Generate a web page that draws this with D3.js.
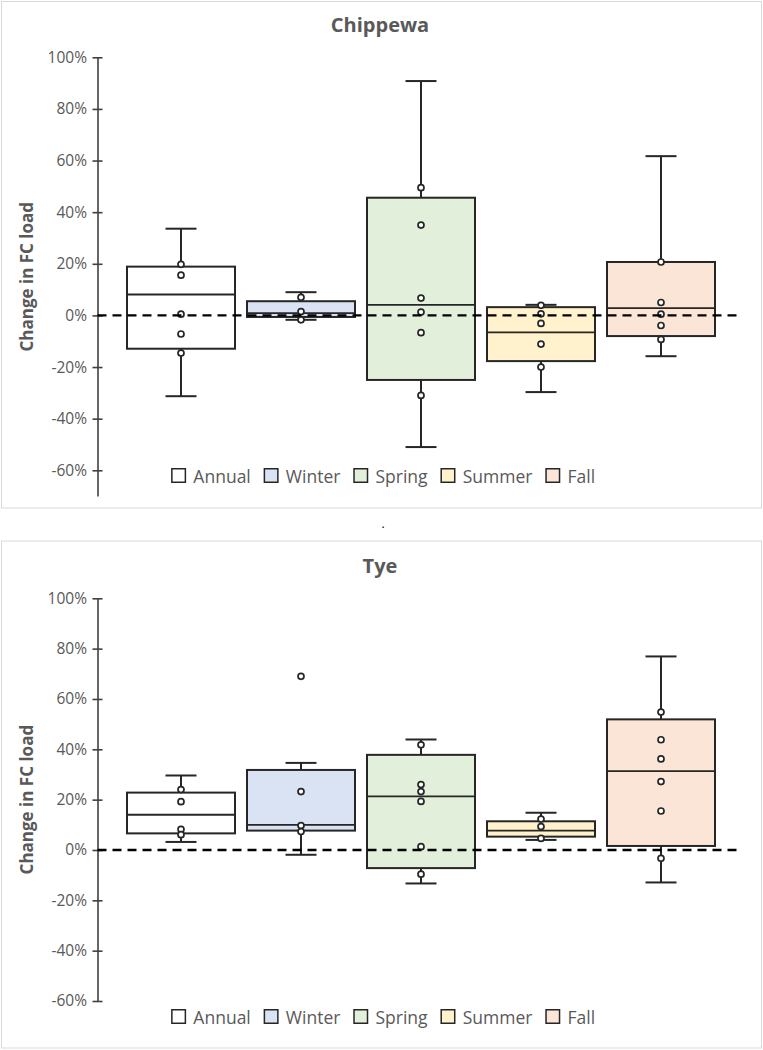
<!DOCTYPE html>
<html>
<head>
<meta charset="utf-8">
<script src="https://cdn.jsdelivr.net/npm/d3@7/dist/d3.min.js"></script>
<style>
  body { margin: 0; background: #ffffff; }
  svg { display: block; }
</style>
</head>
<body>
<svg id="chart" width="763" height="1050"></svg>
<script>
// ---------- data ----------
const categories = ["Annual", "Winter", "Spring", "Summer", "Fall"];
const fillColors = ["#ffffff", "#dae3f3", "#e2efda", "#fff2cc", "#fbe5d6"];
const tickValues = [1.0, 0.8, 0.6, 0.4, 0.2, 0.0, -0.2, -0.4, -0.6];

const chippewaMin    = [-0.313, -0.017, -0.51, -0.297, -0.158];
const chippewaQ1     = [-0.129, -0.006, -0.25, -0.177, -0.080];
const chippewaMedian = [ 0.081,  0.009,  0.041, -0.066,  0.028];
const chippewaQ3     = [ 0.189,  0.055,  0.456,  0.032,  0.207];
const chippewaMax    = [ 0.336,  0.090,  0.908,  0.041,  0.617];
const chippewaPoints = [
  [0.198, 0.156, 0.005, -0.072, -0.146],
  [0.070, 0.015, -0.017],
  [0.495, 0.350, 0.067, 0.013, -0.067, -0.310],
  [0.039, 0.006, -0.031, -0.111, -0.200],
  [0.207, 0.050, 0.005, -0.039, -0.093]
];

const tyeMin    = [0.032, -0.019, -0.133, 0.040, -0.129];
const tyeQ1     = [0.066,  0.077, -0.072, 0.053,  0.016];
const tyeMedian = [0.140,  0.100,  0.213, 0.077,  0.313];
const tyeQ3     = [0.228,  0.318,  0.378, 0.114,  0.519];
const tyeMax    = [0.296,  0.346,  0.439, 0.148,  0.769];
const tyePoints = [
  [0.240, 0.192, 0.082, 0.061],
  [0.690, 0.232, 0.097, 0.073],
  [0.418, 0.260, 0.232, 0.193, 0.013, -0.096],
  [0.123, 0.093, 0.046],
  [0.548, 0.438, 0.362, 0.272, 0.155, -0.033]
];

// ---------- drawing ----------
const svg = d3.select("#chart");
const FONT = "'Open Sans', 'DejaVu Sans', sans-serif";
const TEXT = "#595959";
const INK = "#262626";
const pct = d => d3.format(".0%")(d).replace("\u2212", "-");

function panel(cfg) {
  const g = svg.append("g");
  // frame
  g.append("rect")
    .attr("x", 1.5).attr("y", cfg.frameTop)
    .attr("width", 760).attr("height", cfg.frameH)
    .attr("fill", "#fff").attr("stroke", "#d9d9d9").attr("stroke-width", 1);

  const y = d3.scaleLinear().domain(cfg.domain).range(cfg.yRange);
  const x = d3.scaleBand().domain(categories).range([121, 721])
    .paddingInner(0.1).paddingOuter(0.05);

  // title
  g.append("text")
    .attr("x", 380).attr("y", cfg.titleY)
    .attr("text-anchor", "middle")
    .attr("font-family", FONT).attr("font-weight", "bold")
    .attr("font-size", 20).attr("fill", TEXT)
    .text(cfg.title);

  // y axis label
  const midY = (cfg.yRange[0] + cfg.yRange[1]) / 2;
  g.append("text")
    .attr("transform", `translate(26,${midY}) rotate(-90)`)
    .attr("text-anchor", "middle").attr("dominant-baseline", "central")
    .attr("font-family", FONT).attr("font-weight", "bold")
    .attr("font-size", 17).attr("fill", TEXT)
    .text("Change in FC load");

  // axis
  const axisX = 97.5;
  const ax = g.append("g").attr("transform", `translate(${axisX},0)`)
    .call(d3.axisLeft(y).tickValues(tickValues)
      .tickFormat(pct).tickSizeInner(5).tickSizeOuter(0).tickPadding(5.5));
  ax.select(".domain").attr("stroke", "#404040").attr("stroke-width", 1.6);
  ax.selectAll(".tick line").attr("x1", -5).attr("x2", 5)
    .attr("stroke", "#404040").attr("stroke-width", 1.6);
  ax.selectAll(".tick text").attr("font-family", FONT).attr("font-size", 15.5)
    .attr("fill", TEXT);

  const cap = 31;
  const boxes = g.append("g").selectAll("g").data(categories).join("g");
  boxes.each(function (c, i) {
    const b = d3.select(this);
    const cx = x(c) + x.bandwidth() / 2;
    // whiskers
    b.append("line").attr("x1", cx).attr("x2", cx)
      .attr("y1", y(cfg.max[i])).attr("y2", y(cfg.q3[i]))
      .attr("stroke", INK).attr("stroke-width", 2);
    b.append("line").attr("x1", cx).attr("x2", cx)
      .attr("y1", y(cfg.q1[i])).attr("y2", y(cfg.min[i]))
      .attr("stroke", INK).attr("stroke-width", 2);
    b.append("line").attr("x1", cx - cap / 2).attr("x2", cx + cap / 2)
      .attr("y1", y(cfg.max[i])).attr("y2", y(cfg.max[i]))
      .attr("stroke", INK).attr("stroke-width", 2);
    b.append("line").attr("x1", cx - cap / 2).attr("x2", cx + cap / 2)
      .attr("y1", y(cfg.min[i])).attr("y2", y(cfg.min[i]))
      .attr("stroke", INK).attr("stroke-width", 2);
    // box
    b.append("rect").attr("x", x(c)).attr("width", x.bandwidth())
      .attr("y", y(cfg.q3[i])).attr("height", y(cfg.q1[i]) - y(cfg.q3[i]))
      .attr("fill", fillColors[i]).attr("stroke", INK).attr("stroke-width", 2);
    // median
    b.append("line").attr("x1", x(c)).attr("x2", x(c) + x.bandwidth())
      .attr("y1", y(cfg.median[i])).attr("y2", y(cfg.median[i]))
      .attr("stroke", INK).attr("stroke-width", 1.8);
  });

  // zero reference line
  g.append("line").attr("x1", axisX).attr("x2", 740)
    .attr("y1", y(0)).attr("y2", y(0))
    .attr("stroke", "#000").attr("stroke-width", 2.4)
    .attr("stroke-dasharray", "9,6");

  // inner points
  boxes.each(function (c, i) {
    const cx = x(c) + x.bandwidth() / 2;
    d3.select(this).selectAll("circle").data(cfg.points[i]).join("circle")
      .attr("cx", cx).attr("cy", d => y(d)).attr("r", 3)
      .attr("fill", "#fff").attr("stroke", INK).attr("stroke-width", 1.7);
  });

  // legend
  const lg = g.append("g");
  let lx = 0;
  categories.forEach((c, i) => {
    const it = lg.append("g");
    it.append("rect").attr("x", lx).attr("y", -6.75).attr("width", 13.5).attr("height", 13.5)
      .attr("fill", fillColors[i]).attr("stroke", INK).attr("stroke-width", 1.5);
    const t = it.append("text").attr("x", lx + 21.5).attr("y", 0)
      .attr("dominant-baseline", "central")
      .attr("font-family", FONT).attr("font-size", 17.5).attr("fill", TEXT).text(c);
    const w = t.node().getComputedTextLength();
    lx = lx + 21.5 + w + 13.6;
  });
  const totalW = lx - 13.6;
  lg.attr("transform", `translate(${383.5 - totalW / 2},${cfg.legendY})`);
}

panel({
  title: "Chippewa", titleY: 32, frameTop: 1.5, frameH: 506.5,
  domain: [-0.7, 1.0], yRange: [496.1, 57.3], legendY: 475.5,
  min: chippewaMin, q1: chippewaQ1, median: chippewaMedian, q3: chippewaQ3, max: chippewaMax,
  points: chippewaPoints
});

panel({
  title: "Tye", titleY: 573, frameTop: 541, frameH: 507,
  domain: [-0.6, 1.0], yRange: [1001, 598.3], legendY: 1016.5,
  min: tyeMin, q1: tyeQ1, median: tyeMedian, q3: tyeQ3, max: tyeMax,
  points: tyePoints
});

// stray period between panels
svg.append("text").attr("x", 383).attr("y", 528).attr("text-anchor", "middle")
  .attr("font-family", FONT).attr("font-size", 12).attr("fill", "#000").text(".");
</script>
</body>
</html>
